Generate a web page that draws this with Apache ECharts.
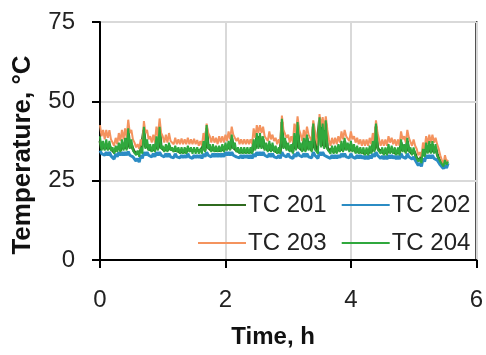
<!DOCTYPE html>
<html>
<head>
<meta charset="utf-8">
<script src="https://cdn.jsdelivr.net/npm/echarts@6/dist/echarts.min.js"></script>
<style>
html,body{margin:0;padding:0;background:#fff;}
#chart{width:486px;height:355px;}
</style>
</head>
<body>
<div id="chart"></div>
<script>
// ---- data ----
const seriesNames = ['TC 201', 'TC 202', 'TC 203', 'TC 204'];
const stepHours = 0.025;           // sampling interval of the logged temperatures
const xTicks = [0, 2, 4, 6];
const yTicks = [0, 25, 50, 75];

const tc201 = [
 37.5,35, 36,35, 36.5,35, 36,35, 34.5,34, 35,34.5, 35.5,34.5, 36.5,35, 37,35, 40.5,35.5,
 36.5,35, 34,33.5, 33.5,33, 34.5,34, 41,35.5, 36.5,35, 35.5,34.5, 35.5,34.5, 37.5,35, 41,35.5,
 35,34.5, 35.5,34.5, 36,35, 34.5,34.5, 35,34.5, 34.5,34, 34.5,34, 34.5,34, 35,34.5, 34.5,34,
 34.5,34, 34.5,34, 34.5,34, 36,34.5, 41.5,35.5, 35.5,34.5, 35.5,34.5, 35,34.5, 35,34.5, 35.5,34.5,
 36,35, 36.5,35, 38.5,35.5, 36,34.5, 34.5,34, 34.5,34, 34.5,34, 34.5,34, 34.5,34, 37,35,
 39,35.5, 39,35.5, 38,35, 36,34.5, 36.5,34.5, 36,34.5, 35,34, 34.5,34, 43.5,35.5, 37.5,35,
 36,34.5, 35.5,34, 39,35, 42.5,35.5, 36,34.5, 37.5,34.5, 38.5,35, 36.5,34.5, 42,35.5, 34.5,34,
 44,36, 42,35.5, 43,35.5, 34.5,34, 35,34, 35,34, 35.5,34.5, 36.5,34.5, 37.5,35, 36,34.5,
 36.5,34.5, 35.5,34, 35,34, 34.5,34, 34.5,33.5, 34.5,33.5, 35,34, 36.5,34.5, 42,35.5, 34.5,34,
 34.5,33.5, 34.5,33.5, 35.5,34, 35,34, 34.5,33.5, 34.5,33.5, 37,34.5, 35.5,34, 37.5,34.5, 34.5,33.5,
 34.5,33.5, 32,31.5, 31.5,31, 34,33, 36,34, 36.5,34, 36.5,34, 35.5,33.5, 32,31.5, 30,30,
 31,30.5, 30.8
];
const tc202 = [
 34.5,33.5, 34,33, 34,33, 34,32.8, 33,31.8, 33.5,32.5, 34,33, 34,33, 34,33, 34.2,33,
 33.5,32.5, 32.5,31.2, 32,30.8, 33,32, 34,33, 34,33, 33.5,32.5, 33.5,32.5, 34,33, 34,33,
 33.5,32.5, 33.5,32.5, 33.5,32.5, 33,32.2, 33.5,32.5, 33,32.2, 33,32.2, 33,32.2, 33.5,32.5, 33,32,
 33,32.2, 33,32.2, 33,32, 33.5,32.5, 34,33, 33.5,32.5, 33.5,32.5, 33.5,32.5, 33.5,32.5, 33.5,32.5,
 34,33, 34,33, 34,33, 33.5,32.5, 33,32.2, 33,32, 33,32.2, 33,32, 33,32, 33.5,32.5,
 34,33, 34,33, 34,33, 33.5,32.5, 33.5,32.5, 33.5,32.5, 33,32.2, 33,32, 34,33, 33.5,32.5,
 33.5,32.5, 33,32, 33.5,32.5, 34,33, 33.5,32.5, 33.5,32.5, 33.5,32.5, 33,32.2, 34,33, 33,32,
 34,33, 34,33, 33.5,32.5, 33,32, 33,32, 33,32, 33,32.2, 33.5,32.5, 33.5,32.5, 33,32.2,
 33.5,32.5, 33,32, 33,32, 33,32, 32.8,31.8, 32.8,31.8, 33,32, 33.5,32.5, 34,33, 33,32,
 32.8,31.8, 32.8,31.8, 33,32, 33,32, 32.8,31.8, 32.8,31.8, 33.5,32.5, 33,32, 33.5,32.5, 32.8,31.8,
 32.5,31.5, 31,29.8, 30.5,29.5, 32,31, 33,32, 33,32, 33,32, 32.5,31.5, 31,30, 29.8,28.8,
 30,29, 30.5
];
const tc203 = [
 42.5,39, 41,38, 41,38.5, 40.9,38, 37.8,36, 38.5,36.5, 40,37.5, 41,38, 41.5,38.5, 44.2,40,
 41,38, 37,35.5, 36.5,35, 38,36, 43.8,40, 41,38, 39,37, 39.5,37, 42,39, 44.6,40,
 39,37, 39.5,37, 40,37.5, 38,36.5, 38.5,36.5, 38,36.5, 38.3,36.5, 38,36.5, 38.5,36.5, 38,36.5,
 38.2,36.5, 37.8,36, 37.5,36, 40,37.5, 43,40, 39,37, 39,37, 38.5,36.5, 39,37, 39,37,
 39.5,37.5, 40.5,38, 42,39.5, 40,37.5, 38.5,36.5, 38,36.5, 38,36.5, 38,36.5, 38,36.5, 41.5,38.5,
 42.5,40, 42.5,40, 42,39, 39.5,37.5, 40.5,38, 39.5,37.5, 38.5,36.5, 38,36.5, 45.5,41, 41,38.5,
 39.5,37, 39,37, 43,40, 45.3,41, 39.5,37.5, 41,38.5, 42,39.5, 40,37.5, 44,41, 37.8,36,
 46,42, 45,41, 45.3,41, 38,36, 38.5,36.5, 38.5,36.5, 39,37, 40.5,38, 41,39, 39.5,37.5,
 40.5,38, 39,37, 38.5,36.5, 38,36, 38,36, 38,36, 38.5,36.5, 40,37.5, 44,40, 38,36,
 38,36, 38,36, 39,37, 38.5,36.5, 38,36, 38,36, 40.5,38, 39,37, 41,38.5, 38,36,
 38,36, 35,33, 34,32.5, 37,35, 39,36.5, 39.5,37, 39.5,37, 38.5,36.5, 35,33, 31.5,30,
 33,31, 31.5
];
const tc204 = [
 39,34.5, 37.5,34.5, 38,34.5, 37.5,34.5, 35.5,33.5, 36,34, 37,34, 38,34.5, 38.5,34.5, 41.5,35,
 38,34.5, 35,33, 34.5,32.5, 35.5,33.5, 42,35, 38,34.5, 36.5,34, 36.5,34, 39,34.5, 42,35,
 36,34, 36.5,34, 37,34.5, 35.5,34, 36,34, 35.5,33.5, 35.5,33.5, 35.5,33.5, 36,34, 35.5,33.5,
 35.5,33.5, 35.5,33.5, 35,33.5, 37.5,34, 42.5,35, 36.5,34, 36.5,34, 36,34, 36,34, 36.5,34,
 37,34.5, 37.5,34.5, 39.5,35, 37,34, 35.5,33.5, 35.5,33.5, 35.5,33.5, 35.5,33.5, 35.5,33.5, 38,34.5,
 40,35, 40,35, 39,34.5, 37,34, 37.5,34, 37,34, 36,33.5, 35.5,33.5, 44.5,35, 38.5,34.5,
 37,34, 36.5,33.5, 40,34.5, 43.5,35, 37,34, 38.5,34, 39.5,34.5, 37.5,34, 43,35, 35.5,33.5,
 45,35.5, 43,35, 44,35, 35.5,33.5, 36,33.5, 36,33.5, 36.5,34, 37.5,34, 38.5,34.5, 37,34,
 37.5,34, 36.5,33.5, 36,33.5, 35.5,33.5, 35.5,33, 35.5,33, 36,33.5, 37.5,34, 43,35, 35.5,33.5,
 35.5,33, 35.5,33, 36.5,33.5, 36,33.5, 35.5,33, 35.5,33, 38,34, 36.5,33.5, 38.5,34, 35.5,33,
 35.5,33, 33,31, 32,30.5, 35,32.5, 37,33.5, 37.5,33.5, 37.5,33.5, 36.5,33, 33,31, 30.5,29.5,
 31.5,30, 31
];

const seriesValues = [tc201, tc202, tc203, tc204];
const seriesColors = ['#2f6b1f', '#2b8cc4', '#f4935e', '#2fa83d'];
const seriesWidths = [3, 3, 2, 2];

const FONT = '"Liberation Sans", Arial, sans-serif';

function toPairs(values) {
  return values.map((v, j) => [j * stepHours, v]);
}

const chart = echarts.init(document.getElementById('chart'), null, {renderer: 'canvas'});
chart.setOption({
  animation: false,
  backgroundColor: '#ffffff',
  grid: {
    left: 100, right: 9, top: 22, bottom: 95,
    show: true, borderColor: '#000', borderWidth: 2, backgroundColor: 'transparent'
  },
  legend: {
    data: seriesNames,
    left: 197, top: 193, width: 290,
    orient: 'horizontal',
    itemWidth: 48, itemHeight: 14, itemGap: 14,
    padding: 0,
    itemStyle: {opacity: 0},
    textStyle: {fontSize: 24, color: '#222', fontFamily: FONT, padding: [0, 0, 0, -3]}
  },
  xAxis: {
    type: 'value', min: xTicks[0], max: xTicks[xTicks.length - 1], interval: 2,
    name: 'Time, h', nameLocation: 'middle', nameGap: 65,
    nameTextStyle: {fontSize: 24, fontWeight: 'bold', color: '#111', fontFamily: FONT, padding: [0, 30, 0, 0]},
    axisLine: {show: true, lineStyle: {color: '#000', width: 2}},
    axisTick: {show: true, inside: false, length: 8, lineStyle: {color: '#000', width: 2}},
    axisLabel: {fontSize: 24, color: '#222', fontFamily: FONT, margin: 28},
    splitLine: {show: true, lineStyle: {color: '#d9d9d9', width: 2}}
  },
  yAxis: {
    type: 'value', min: yTicks[0], max: yTicks[yTicks.length - 1], interval: 25,
    name: 'Temperature, °C', nameLocation: 'middle', nameGap: 64,
    nameTextStyle: {fontSize: 26, fontWeight: 'bold', color: '#111', fontFamily: FONT, padding: [0, 28, 0, 0]},
    axisLine: {show: true, lineStyle: {color: '#000', width: 2}},
    axisTick: {show: true, inside: false, length: 8, lineStyle: {color: '#000', width: 2}},
    axisLabel: {fontSize: 24, color: '#222', fontFamily: FONT, margin: 25},
    splitLine: {show: true, lineStyle: {color: '#d9d9d9', width: 2}}
  },
  series: seriesNames.map((name, k) => ({
    name: name,
    type: 'line',
    data: toPairs(seriesValues[k]),
    showSymbol: false,
    symbol: 'none',
    color: seriesColors[k],
    lineStyle: {color: seriesColors[k], width: seriesWidths[k]},
    emphasis: {disabled: true}
  }))
});
</script>
</body>
</html>
